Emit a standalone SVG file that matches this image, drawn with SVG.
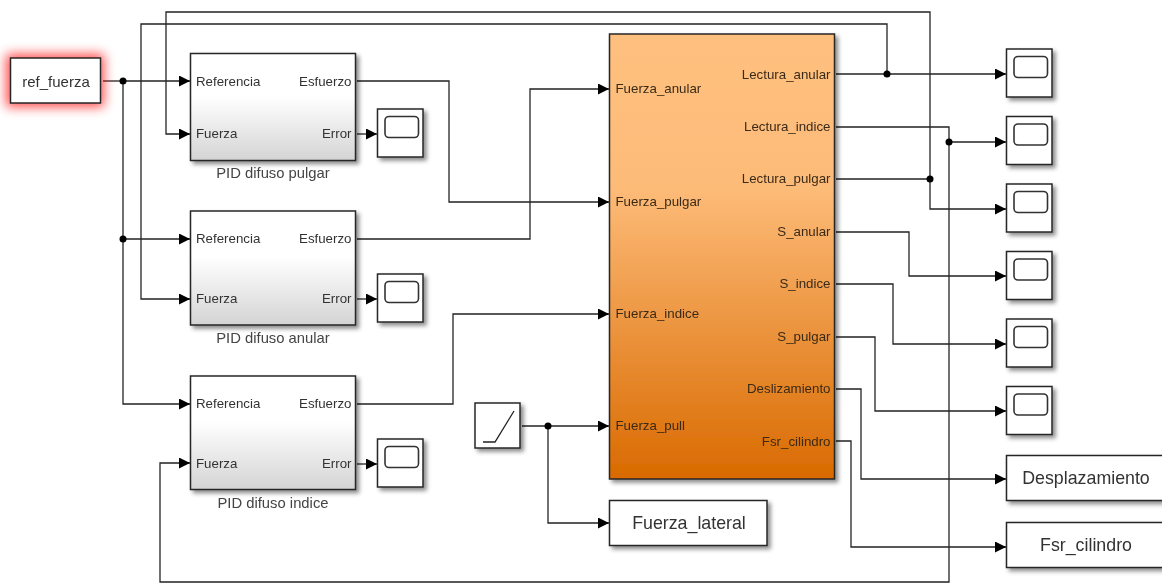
<svg xmlns="http://www.w3.org/2000/svg" width="1162" height="583" viewBox="0 0 1162 583">
<style>
text{font-family:"Liberation Sans",Arial,sans-serif;fill:#333}
.p{font-size:13.300px;dominant-baseline:central}
.o{fill:#3a2a18}
.e{text-anchor:end}
.c{text-anchor:middle}
.cap{font-size:14.800px;text-anchor:middle;fill:#444}
.lg{font-size:17.800px;text-anchor:middle;dominant-baseline:central}
.b{stroke:#262626;stroke-width:1.5;fill:#fff;filter:url(#sh)}
.w{fill:none;stroke:#222;stroke-width:1.3;marker-end:url(#a)}
.n{fill:none;stroke:#222;stroke-width:1.3}
.s{fill:none;stroke:#333;stroke-width:1.6}
.d{fill:#000}
</style>
<defs>
<filter id="sh" x="-20%" y="-20%" width="140%" height="140%"><feDropShadow dx="3" dy="3" stdDeviation="2.2" flood-color="#000" flood-opacity=".45"/></filter>
<filter id="glow" x="-40%" y="-60%" width="180%" height="220%"><feGaussianBlur stdDeviation="6"/></filter>
<filter id="soft"><feGaussianBlur stdDeviation="0.45"/></filter>
<linearGradient id="gp" x1="0" y1="0" x2="0" y2="1"><stop offset="0" stop-color="#fff"/><stop offset=".4" stop-color="#fff"/><stop offset="1" stop-color="#d4d4d4"/></linearGradient>
<linearGradient id="go" x1="0" y1="0" x2="0" y2="1"><stop offset="0" stop-color="#ffc07f"/><stop offset=".35" stop-color="#fdbb78"/><stop offset="1" stop-color="#d96a00"/></linearGradient>
<marker id="a" markerUnits="userSpaceOnUse" markerWidth="11" markerHeight="11" refX="11" refY="5.5" orient="auto"><path d="M0 0L11 5.500L0 11Z" fill="#000"/></marker>
<g id="sc"><rect class="b" width="45.500" height="48"/><rect class="s" x="7.500" y="7.500" width="33.500" height="21" rx="4"/></g>
</defs>
<rect width="1162" height="583" fill="#fff"/>
<g filter="url(#soft)">
<g id="connectors">
<path class="n" d="M103 81H123"/><path class="w" d="M123 81H190"/>
<path class="w" d="M123 81V404H190"/>
<path class="w" d="M123 239H190"/>
<path class="w" d="M930 179V209H1006"/>
<path class="w" d="M930 179V12H166V134H190"/>
<path class="n" d="M836 179H930"/>
<path class="w" d="M887 74V24H141V299H190"/>
<path class="w" d="M836 74H1006"/>
<path class="w" d="M836 127H949V582H160V463H190"/>
<path class="w" d="M949 142H1006"/>
<path class="w" d="M836 232H909V276H1006"/>
<path class="w" d="M836 284H893V344H1006"/>
<path class="w" d="M836 337H875V411H1006"/>
<path class="w" d="M836 389H861V479H1006"/>
<path class="w" d="M836 441H851V547H1006"/>
<path class="w" d="M357 81H449V202H609"/>
<path class="w" d="M357 239H530V89H609"/>
<path class="w" d="M357 404H453V314H609"/>
<path class="w" d="M522 426H609"/>
<path class="w" d="M548 426V523H609"/>
<path class="w" d="M357 134H377"/>
<path class="w" d="M357 299H377"/>
<path class="w" d="M357 464H377"/>
<circle class="d" cx="123" cy="81" r="3.500"/>
<circle class="d" cx="123" cy="239" r="3.500"/>
<circle class="d" cx="887" cy="74" r="3.500"/>
<circle class="d" cx="949" cy="142" r="3.500"/>
<circle class="d" cx="930" cy="179" r="3.500"/>
<circle class="d" cx="548" cy="426" r="3.500"/>
</g>
<g id="ref_fuerza">
<rect x="6" y="54" width="98" height="53" fill="#f00" opacity=".7" filter="url(#glow)"/>
<rect x="10.500" y="58" width="90" height="45" fill="#fff" stroke="#262626" stroke-width="1.500"/>
<text x="56" y="81" class="c" font-size="15" dominant-baseline="central">ref_fuerza</text>
</g>
<g id="pid_pulgar">
<rect class="b" x="190.500" y="53.500" width="165" height="107" style="fill:url(#gp)"/>
<text class="p" x="196" y="81">Referencia</text><text class="p" x="196" y="133.500">Fuerza</text>
<text class="p e" x="351.500" y="81">Esfuerzo</text><text class="p e" x="351.500" y="133.500">Error</text>
<text class="cap" x="273" y="178">PID difuso pulgar</text>
</g>
<g id="pid_anular">
<rect class="b" x="190.500" y="211" width="165" height="114" style="fill:url(#gp)"/>
<text class="p" x="196" y="238">Referencia</text><text class="p" x="196" y="298">Fuerza</text>
<text class="p e" x="351.500" y="238">Esfuerzo</text><text class="p e" x="351.500" y="298">Error</text>
<text class="cap" x="273" y="343">PID difuso anular</text>
</g>
<g id="pid_indice">
<rect class="b" x="190.500" y="376" width="165" height="113.500" style="fill:url(#gp)"/>
<text class="p" x="196" y="403">Referencia</text><text class="p" x="196" y="463">Fuerza</text>
<text class="p e" x="351.500" y="403">Esfuerzo</text><text class="p e" x="351.500" y="463">Error</text>
<text class="cap" x="273" y="508">PID difuso indice</text>
</g>
<use id="scope_pulgar" href="#sc" x="377.500" y="109"/>
<use id="scope_anular" href="#sc" x="377.500" y="274"/>
<use id="scope_indice" href="#sc" x="377.500" y="439"/>
<g id="planta">
<rect class="b" x="609.500" y="34" width="225" height="445" style="fill:url(#go)"/>
<text class="p o" x="615.500" y="88">Fuerza_anular</text>
<text class="p o" x="615.500" y="201">Fuerza_pulgar</text>
<text class="p o" x="615.500" y="313">Fuerza_indice</text>
<text class="p o" x="615.500" y="425">Fuerza_pull</text>
<text class="p e o" x="830.500" y="74">Lectura_anular</text>
<text class="p e o" x="830.500" y="126">Lectura_indice</text>
<text class="p e o" x="830.500" y="178">Lectura_pulgar</text>
<text class="p e o" x="830.500" y="231">S_anular</text>
<text class="p e o" x="830.500" y="283">S_indice</text>
<text class="p e o" x="830.500" y="336">S_pulgar</text>
<text class="p e o" x="830.500" y="388">Deslizamiento</text>
<text class="p e o" x="830.500" y="441">Fsr_cilindro</text>
</g>
<use id="scope_1" href="#sc" x="1006.500" y="49"/>
<use id="scope_2" href="#sc" x="1006.500" y="116.500"/>
<use id="scope_3" href="#sc" x="1006.500" y="184"/>
<use id="scope_4" href="#sc" x="1006.500" y="251.500"/>
<use id="scope_5" href="#sc" x="1006.500" y="319"/>
<use id="scope_6" href="#sc" x="1006.500" y="386.500"/>
<g id="desplazamiento"><rect class="b" x="1006.500" y="455.500" width="160" height="45"/><text class="lg" x="1086" y="477.500">Desplazamiento</text></g>
<g id="fsr_cilindro"><rect class="b" x="1006.500" y="522.500" width="160" height="45"/><text class="lg" x="1086" y="545">Fsr_cilindro</text></g>
<g id="rampa"><rect class="b" x="475" y="403" width="45" height="45"/><path class="n" d="M483 442H495L514 411" stroke-width="1.500"/></g>
<g id="fuerza_lateral"><rect class="b" x="609.500" y="500.500" width="157.500" height="45"/><text class="lg" x="689" y="522.500">Fuerza_lateral</text></g>
</g>
</svg>
